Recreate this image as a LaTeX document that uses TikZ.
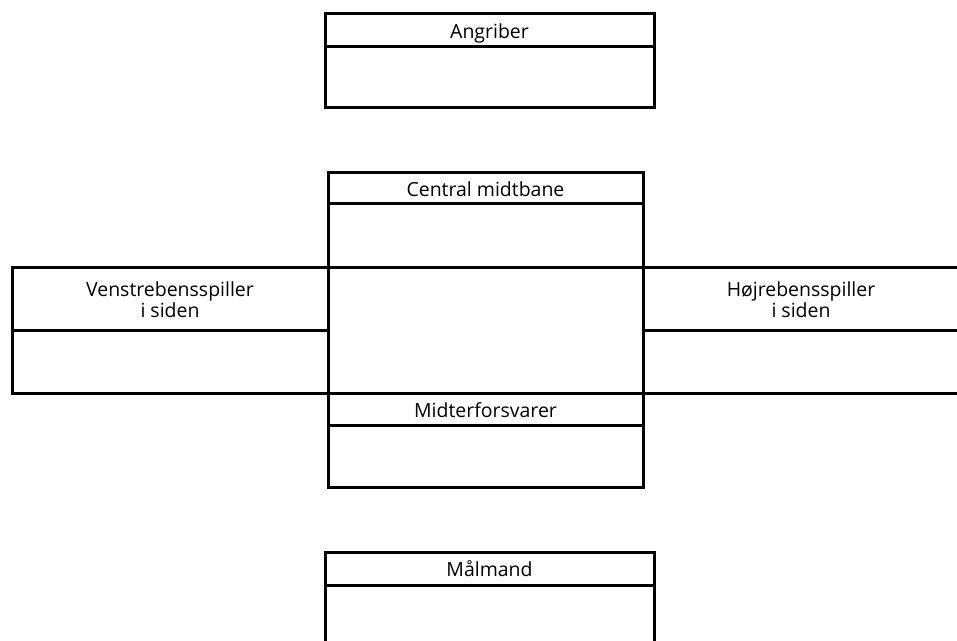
\documentclass[tikz,border=0pt]{standalone}
\usepackage{fontspec}
\setmainfont{Open Sans}
\usetikzlibrary{positioning}

\begin{document}
\begin{tikzpicture}[
    x=0.75pt, y=-0.75pt,
    cell/.style={draw, line width=2.25pt, outer sep=0pt, inner sep=0pt,
        font=\fontsize{14.6}{13.2}\selectfont, align=center},
    head/.style={cell, text height=11.4pt, text depth=0pt}
]
\clip (0,0) rectangle (957,641);
% angriber
\node[head, minimum width=246.75pt, minimum height=24.75pt] (angriber) at (489.5, 30.5) {Angriber};
\node[cell, minimum width=246.75pt, minimum height=45.75pt, below=0pt of angriber] (angriberfelt) {};
% central midtbane
\node[head, minimum width=236.25pt, minimum height=23.25pt] (midtbane) at (485.5, 188.5) {Central midtbane};
\node[cell, minimum width=236.25pt, minimum height=48pt, below=0pt of midtbane] (midtbanefelt) {};
% kanter
\node[cell, minimum width=237pt, minimum height=47.25pt] (venstre) at (170, 299.5) {Venstrebensspiller\\i siden};
\node[cell, minimum width=237pt, minimum height=47.25pt, below=0pt of venstre] (venstrefelt) {};
\node[cell, minimum width=237pt, minimum height=47.25pt] (hoejre) at (801, 299.5) {Højrebensspiller\\i siden};
\node[cell, minimum width=237pt, minimum height=47.25pt, below=0pt of hoejre] (hoejrefelt) {};
% midterforsvarer
\node[head, minimum width=236.25pt, minimum height=24pt] (forsvar) at (485.5, 410) {Midterforsvarer};
\node[cell, minimum width=236.25pt, minimum height=46.5pt, below=0pt of forsvar] (forsvarfelt) {};
% maalmand
\node[head, minimum width=246.75pt, minimum height=24.375pt] (maalmand) at (489.5, 568.75) {Målmand};
\node[cell, minimum width=246.75pt, minimum height=45.75pt, below=0pt of maalmand] (maalmandfelt) {};
\end{tikzpicture}
\end{document}
